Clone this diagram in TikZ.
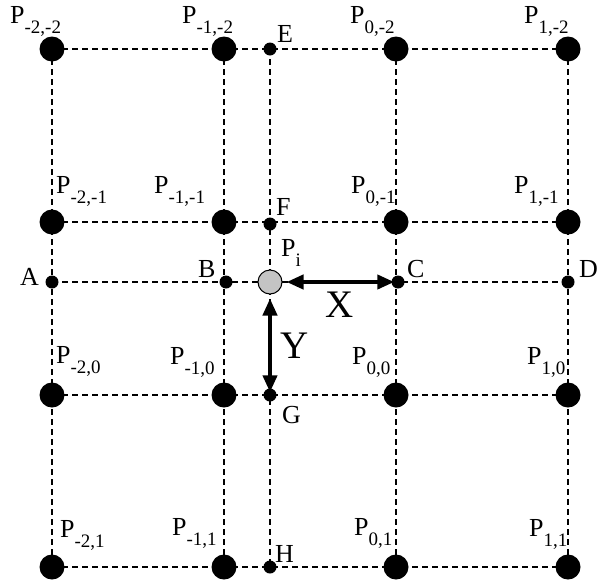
\documentclass[tikz,border=0pt]{standalone}
\usepackage{fontspec}
\setmainfont{Liberation Serif}
\usepackage{tikz}
\usetikzlibrary{arrows.meta, backgrounds}
\definecolor{pigray}{gray}{0.77}

% P with a low subscript
\newcommand{\Pij}[1]{P\raisebox{-10pt}{\fontsize{19}{19}\selectfont #1}}

\tikzset{
  bigdot/.style={circle, fill=black, inner sep=0pt, minimum size=25pt},
  smalldot/.style={circle, fill=black, inner sep=0pt, minimum size=13pt},
  gridline/.style={dash pattern=on 6pt off 4pt, line width=1.2pt},
  lbl/.style={anchor=base west, inner sep=0pt, font=\fontsize{26}{26}\selectfont},
  biglbl/.style={anchor=base west, inner sep=0pt, font=\fontsize{39}{39}\selectfont},
  dimarrow/.style={{Triangle[length=17pt,width=14pt]}-{Triangle[length=17pt,width=14pt]}, line width=4pt}
}

\begin{document}
\begin{tikzpicture}[x=1pt, y=-1pt]
    \useasboundingbox (0,0) rectangle (597,587);
    % grid points
    \foreach \c/\xx in {0/52,1/224,2/396,3/568}
      \foreach \r/\yy in {0/49,1/222,2/395,3/567}
        \node[bigdot] (p\c\r) at (\xx,\yy) {};
    % points on the lines through P_i
    \node[smalldot] (A) at (52,282) {};
    \node[smalldot] (B) at (226,282) {};
    \node[smalldot] (C) at (398,282) {};
    \node[smalldot] (D) at (568,282) {};
    \node[smalldot] (E) at (270,49) {};
    \node[smalldot] (F) at (270,224) {};
    \node[smalldot] (G) at (270,395) {};
    \node[smalldot] (H) at (270,567) {};
    \node[circle, draw=black, fill=pigray, line width=1pt, minimum size=24pt, inner sep=0pt] (Pi) at (270,282) {};
    % dashed lines
    \begin{scope}[on background layer]
      \foreach \r in {0,...,3} \draw[gridline] (p0\r.center) -- (p3\r.center);
      \foreach \c in {0,...,3} \draw[gridline] (p\c0.center) -- (p\c3.center);
      \draw[gridline] (A.center) -- (D.center);
      \draw[gridline] (E.center) -- (H.center);
    \end{scope}
    % distances
    \draw[dimarrow, shorten <=4pt, shorten >=-3pt] (Pi) -- (C);
    \draw[dimarrow, shorten <=4pt, shorten >=-4pt] (Pi) -- (G);
    % labels
    \node[lbl] (l00) at (10,23) {\Pij{-2,-2}};
    \node[lbl] (l10) at (182,23) {\Pij{-1,-2}};
    \node[lbl] (l20) at (350,23) {\Pij{0,-2}};
    \node[lbl] (l30) at (524,23) {\Pij{1,-2}};
    \node[lbl] (l01) at (56,193) {\Pij{-2,-1}};
    \node[lbl] (l11) at (154,193) {\Pij{-1,-1}};
    \node[lbl] (l21) at (351,193) {\Pij{0,-1}};
    \node[lbl] (l31) at (514,193) {\Pij{1,-1}};
    \node[lbl] (l02) at (56,363) {\Pij{-2,0}};
    \node[lbl] (l12) at (170,364) {\Pij{-1,0}};
    \node[lbl] (l22) at (352,364) {\Pij{0,0}};
    \node[lbl] (l32) at (527,364) {\Pij{1,0}};
    \node[lbl] (l03) at (60,537) {\Pij{-2,1}};
    \node[lbl] (l13) at (172,535) {\Pij{-1,1}};
    \node[lbl] (l23) at (354,535) {\Pij{0,1}};
    \node[lbl] (l33) at (529,536) {\Pij{1,1}};
    \node[lbl] (lPi) at (281,256) {\Pij{i}};
    \node[lbl] (lA) at (20,285) {A};
    \node[lbl] (lB) at (198,277) {B};
    \node[lbl] (lC) at (407,277) {C};
    \node[lbl] (lD) at (579,277) {D};
    \node[lbl] (lE) at (277,42) {E};
    \node[lbl] (lF) at (276,215) {F};
    \node[lbl] (lG) at (282,423) {G};
    \node[lbl] (lH) at (275,562) {H};
    \node[biglbl] (lX) at (325,317) {X};
    \node[biglbl] (lY) at (280,358) {Y};
\end{tikzpicture}
\end{document}
